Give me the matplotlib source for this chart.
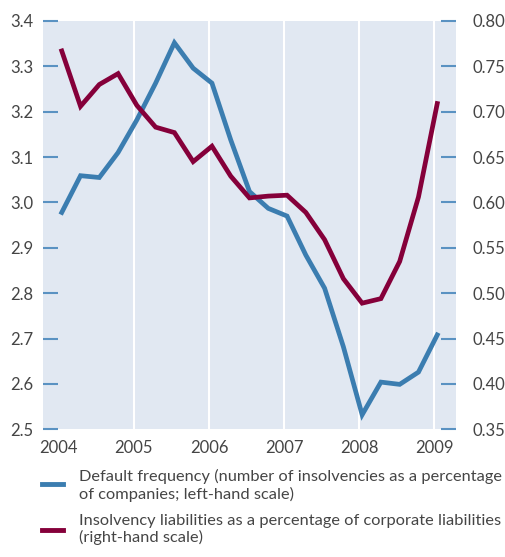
import matplotlib
matplotlib.use("Agg")
import matplotlib.pyplot as plt
from matplotlib.lines import Line2D
import numpy as np

plt.rcParams['font.family'] = ['Lato', 'DejaVu Sans']

quarters = np.arange(2004, 2009.01, 0.25) + 0.04
default_freq = [2.978, 3.059, 3.055, 3.110, 3.182, 3.263, 3.352, 3.296, 3.263, 3.138, 3.024,
                2.987, 2.970, 2.884, 2.811, 2.682, 2.532, 2.604, 2.599, 2.626, 2.708]
insolv_liab = [0.767, 0.706, 0.730, 0.742, 0.707, 0.683, 0.677, 0.645, 0.662, 0.629, 0.605,
               0.607, 0.608, 0.589, 0.559, 0.516, 0.489, 0.494, 0.535, 0.606, 0.709]
years = [2004, 2005, 2006, 2007, 2008, 2009]
left_ticks = [2.5, 2.6, 2.7, 2.8, 2.9, 3.0, 3.1, 3.2, 3.3, 3.4]
right_ticks = [0.35, 0.40, 0.45, 0.50, 0.55, 0.60, 0.65, 0.70, 0.75, 0.80]
legend_labels = ["Default frequency (number of insolvencies as a percentage\nof companies; left-hand scale)",
                 "Insolvency liabilities as a percentage of corporate liabilities\n(right-hand scale)"]

blue = '#3b7db0'
red = '#85003a'
tick_col = '#5a92c2'
text_col = '#454545'

fig = plt.figure(figsize=(5.05, 5.57), dpi=100)
ax = fig.add_axes([0.0851, 0.2293, 0.8179, 0.733])
ax.set_facecolor('#e1e8f2')
ax2 = ax.twinx()

ax.set_xlim(2003.79, 2009.29)
ax.set_ylim(2.5, 3.4)
ax2.set_ylim(0.35, 0.80)

for yr in years[1:]:
    ax.axvline(yr, color='white', lw=1.5, zorder=1)

ax.plot(quarters, default_freq, color=blue, lw=3.4, zorder=3, solid_joinstyle='miter')
ax2.plot(quarters, insolv_liab, color=red, lw=3.4, zorder=3, solid_joinstyle='miter')

for a in (ax, ax2):
    for s in a.spines.values():
        s.set_visible(False)

ax.set_xticks(years)
ax.set_xticklabels([str(y) for y in years])
ax.tick_params(axis='x', length=0, pad=8, labelsize=12, labelcolor=text_col)

ax.set_yticks(left_ticks)
ax.set_yticklabels([f"{v:.1f}" for v in left_ticks])
ax.tick_params(axis='y', direction='in', length=11, width=1.5, color=tick_col,
               labelsize=12, labelcolor=text_col, pad=7)

ax2.set_yticks(right_ticks)
ax2.set_yticklabels([f"{v:.2f}" for v in right_ticks])
ax2.tick_params(axis='y', direction='in', length=11, width=1.5, color=tick_col,
                labelsize=12, labelcolor=text_col, pad=12)

ax.set_zorder(1)
ax2.set_zorder(2)

# legend
fig.add_artist(Line2D([42/505, 63/505], [1-484/557, 1-484/557], color=blue, lw=3.5,
                      transform=fig.transFigure))
fig.add_artist(Line2D([42/505, 63/505], [1-530/557, 1-530/557], color=red, lw=3.5,
                      transform=fig.transFigure))
fig.text(79/505, 1-469/557, legend_labels[0], fontsize=11.8, color=text_col, va='top',
         ha='left', linespacing=1.2)
fig.text(79/505, 1-514/557, legend_labels[1], fontsize=11.8, color=text_col, va='top',
         ha='left', linespacing=1.2)

fig.savefig('out.png', dpi=100)
